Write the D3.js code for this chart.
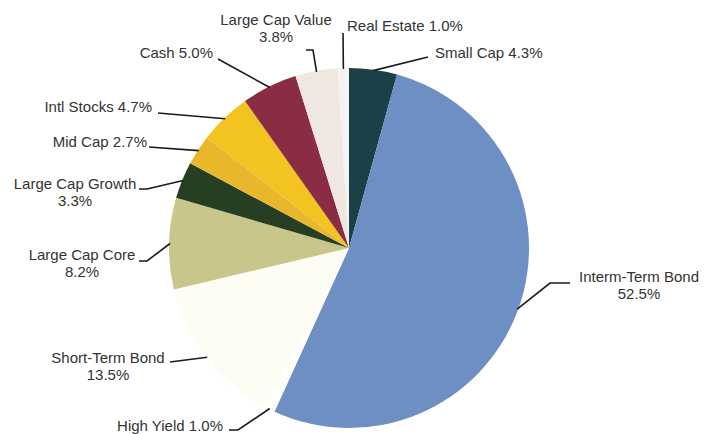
<!DOCTYPE html>
<html>
<head>
<meta charset="utf-8">
<script src="https://cdn.jsdelivr.net/npm/d3@7"></script>
<style>
  html, body { margin: 0; padding: 0; background: #fff; }
  svg { display: block; }
  text { font-family: "Liberation Sans", Arial, sans-serif; font-size: 15px; fill: #333; }
</style>
</head>
<body>
<svg id="chart" width="704" height="434"></svg>
<script>
// Asset allocation, clockwise from 12 o'clock
const categories = ["Small Cap", "Interm-Term Bond", "High Yield", "Short-Term Bond",
  "Large Cap Core", "Large Cap Growth", "Mid Cap", "Intl Stocks", "Cash",
  "Large Cap Value", "Real Estate"];
const values = [4.3, 52.5, 1.0, 13.5, 8.2, 3.3, 2.7, 4.7, 5.0, 3.8, 1.0];
const colors = ["#1c4047", "#6d8fc3", "#fefefa", "#fdfdf4", "#c9c68c", "#263f22",
  "#e9b72c", "#f3c322", "#8b2d42", "#efe8e0", "#f4f2f2"];

// Label placement: anchor, text position, whether the value goes on a second line,
// and the knee/end points of each leader line.
const labelLayout = [
  { anchor: "start",  x: 435, y: 58,  split: false, pts: [[428, 57]] },
  { anchor: "middle", x: 639, y: 282, split: true,  pts: [[550, 283], [570, 283]] },
  { anchor: "end",    x: 223, y: 431, split: false, pts: [[238, 430], [229, 430]] },
  { anchor: "middle", x: 108, y: 363, split: true,  pts: [[170, 362]] },
  { anchor: "middle", x: 82,  y: 260, split: true,  pts: [[147, 261], [139, 261]] },
  { anchor: "middle", x: 75,  y: 189, split: true,  pts: [[147, 189], [139, 189]] },
  { anchor: "end",    x: 147, y: 147, split: false, pts: [[149, 147]] },
  { anchor: "end",    x: 152, y: 112, split: false, pts: [[158, 113]] },
  { anchor: "end",    x: 213, y: 58,  split: false, pts: [[218, 59]] },
  { anchor: "middle", x: 276, y: 25,  split: true,  pts: [[313, 50], [306, 50]] },
  { anchor: "start",  x: 347, y: 31,  split: false, pts: [[343, 33]] }
];

const data = categories.map((c, i) => ({ name: c, value: values[i], color: colors[i], layout: labelLayout[i] }));

const cx = 349, cy = 248, radius = 180;
const svg = d3.select("#chart");
const g = svg.append("g").attr("transform", `translate(${cx},${cy})`);

const pie = d3.pie().value(d => d.value).sort(null);
const arc = d3.arc().innerRadius(0).outerRadius(radius);
const arcs = pie(data);

g.selectAll("path.slice")
  .data(arcs)
  .enter().append("path")
  .attr("class", "slice")
  .attr("d", arc)
  .attr("fill", d => d.data.color);

// Leader lines start on the rim at each slice's mid-angle
const rim = a => [cx + Math.sin(a) * (radius - 1), cy - Math.cos(a) * (radius - 1)];
svg.selectAll("polyline.leader")
  .data(arcs)
  .enter().append("polyline")
  .attr("class", "leader")
  .attr("fill", "none")
  .attr("stroke", "#1a1a1a")
  .attr("stroke-width", 1.6)
  .attr("points", d => {
    const a = (d.startAngle + d.endAngle) / 2;
    return [rim(a)].concat(d.data.layout.pts).map(p => p.join(",")).join(" ");
  });

const fmt = v => v.toFixed(1) + "%";
arcs.forEach(d => {
  const L = d.data.layout;
  const t = svg.append("text").attr("text-anchor", L.anchor).attr("x", L.x).attr("y", L.y);
  if (L.split) {
    t.append("tspan").attr("x", L.x).text(d.data.name);
    t.append("tspan").attr("x", L.x).attr("dy", 17).text(fmt(d.data.value));
  } else {
    t.text(d.data.name + " " + fmt(d.data.value));
  }
});
</script>
</body>
</html>
